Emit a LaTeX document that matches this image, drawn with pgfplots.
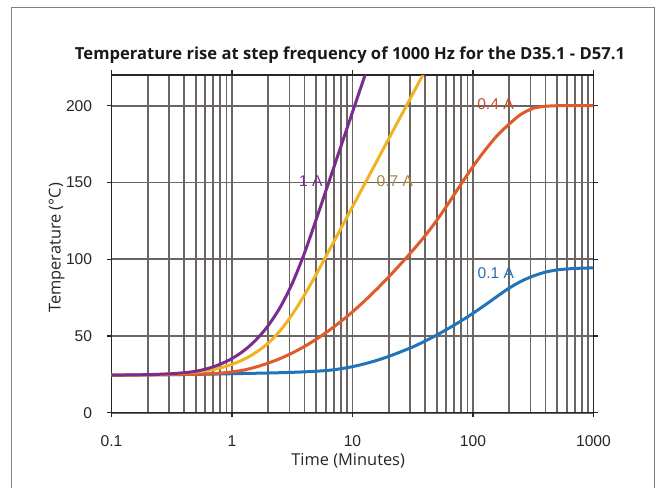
\documentclass[border=0pt]{standalone}
\usepackage{fontspec}
\setmainfont{Liberation Sans}
\newfontfamily\opensans{Open Sans}
\usepackage{pgfplots}
\pgfplotsset{compat=1.18}
\definecolor{cpurple}{HTML}{7B2D8E}
\definecolor{corange}{HTML}{F0B323}
\definecolor{cred}{HTML}{E05A2B}
\definecolor{cblue}{HTML}{1F74BB}
\definecolor{lpurple}{HTML}{7B2D8E}
\definecolor{lorange}{HTML}{A88540}
\definecolor{lred}{HTML}{CC4A2C}
\definecolor{lblue}{HTML}{2A6DB2}
\definecolor{cgrid}{HTML}{6A6463}
\definecolor{framegray}{HTML}{808080}
\begin{document}
\begin{tikzpicture}
\useasboundingbox (0,0) rectangle (330pt,244pt);
\draw[color=framegray, line width=0.8pt] (5.8pt,-5pt) rectangle (327.2pt,240.3pt);
\node[font=\opensans\bfseries\fontsize{8.3}{10}\selectfont, anchor=center, text=black!90] at (175pt,216.5pt) {Temperature rise at step frequency of 1000 Hz for the D35.1 - D57.1};
\begin{axis}[
 at={(55.75pt,37.65pt)}, anchor=south west,
 scale only axis, width=241pt, height=168.85pt,
 xmode=log, xmin=0.1, xmax=1000, ymin=0, ymax=220,
 xtick={0.1,1,10,100,1000}, xticklabels={0.1,1,10,100,1000},
 ytick={0,50,100,150,200},
 grid=both,
 major grid style={color=cgrid, line width=0.95pt},
 minor grid style={color=cgrid, line width=0.95pt},
 axis line style={color=black!85, line width=0.6pt},
 tick align=outside, tick pos=both,
 xticklabel pos=lower, yticklabel pos=left,
 major tick length=2.3pt, minor tick length=0pt,
 tick style={color=black!85, line width=0.6pt},
 ticklabel style={font=\fontsize{7.8}{9}\selectfont, text=black!85},
 xticklabel style={anchor=center, yshift=-11.8pt},
 yticklabel style={xshift=-3.9pt},
 /pgf/number format/assume math mode=true,
 xlabel={Time (Minutes)}, ylabel={Temperature (°C)},
 label style={font=\opensans\fontsize{8.2}{10}\selectfont, text=black!85},
 xlabel style={at={(axis description cs:0.491,-0.1415)}, anchor=center},
 ylabel style={at={(axis description cs:-0.114,0.488)}, anchor=center},
]
% 0.1 A
\addplot[cblue, line width=1.5pt, smooth] coordinates {
(0.1,24.5) (0.1585,24.6) (0.2512,24.75) (0.3981,24.9) (0.631,25.1) (1,25.4) (1.585,25.7) (2.512,26.05) (3.162,26.3) (3.981,26.6) (5.012,27.0) (6.31,27.6) (7.943,28.6) (10,30.0) (12.59,31.85) (15.85,34.05) (19.95,36.65) (25.12,39.65) (31.62,42.85) (39.81,46.55) (50.12,50.65) (63.1,55.05) (79.43,59.75) (100,64.75) (125.9,70.15) (158.5,75.75) (199.5,81.15) (251.2,85.65) (316.2,89.05) (398.1,91.55) (501.2,93.05) (631,93.75) (794.3,94.15) (1000,94.35)};
% 0.4 A
\addplot[cred, line width=1.5pt, smooth] coordinates {
(0.1,24.5) (0.1259,24.52) (0.1585,24.55) (0.1995,24.6) (0.2512,24.65) (0.3162,24.75) (0.3981,24.85) (0.5012,25.0) (0.631,25.3) (0.7943,25.8) (1,26.6) (1.259,27.8) (1.585,29.8) (1.995,32.3) (2.512,35.3) (3.162,38.9) (3.981,43.1) (5.012,47.9) (6.31,53.3) (7.943,59.2) (10,65.7) (12.59,72.8) (15.85,80.4) (19.95,88.4) (25.12,96.9) (31.62,105.7) (39.81,115.0) (50.12,125.4) (63.1,136.8) (79.43,148.8) (100,160.4) (125.9,171.0) (158.5,180.5) (199.5,188) (251.2,194.5) (316.2,198.3) (398.1,199.6) (501.2,200) (631,200) (1000,200)};
% 0.7 A
\addplot[corange, line width=1.5pt, smooth] coordinates {
(0.1,24.5) (0.1259,24.55) (0.1585,24.6) (0.1995,24.75) (0.2512,24.95) (0.3162,25.3) (0.3981,25.8) (0.5012,26.5) (0.631,27.5) (0.7943,29.1) (1,31.5) (1.259,34.8) (1.585,39.3) (1.995,45.3) (2.512,53.5) (3.162,64) (3.981,76.5) (5.012,90.3) (6.31,104.8) (7.943,119.5) (10,134.2) (12.59,148.9) (15.85,163.6) (19.95,178.3) (25.12,193) (31.62,207.7) (39.81,222.4)};
% 1 A
\addplot[cpurple, line width=1.5pt, smooth] coordinates {
(0.1,24.5) (0.1259,24.55) (0.1585,24.65) (0.1995,24.8) (0.2512,25.05) (0.3162,25.4) (0.3981,26.0) (0.5012,27.0) (0.631,28.8) (0.7943,31.5) (1,35.3) (1.259,40.5) (1.585,47.5) (1.995,56.7) (2.512,68.7) (3.162,84.2) (3.981,103.7) (5.012,126.2) (6.31,149.4) (7.943,172.6) (10,195.8) (12.59,219) (15.85,242)};
\node[text=lpurple, font=\fontsize{7.8}{9}\selectfont] at (axis cs:4.52,151) {1 A};
\node[text=lorange, font=\fontsize{7.8}{9}\selectfont] at (axis cs:22.5,151) {0.7 A};
\node[text=lred, font=\fontsize{7.8}{9}\selectfont] at (axis cs:153.7,201.3) {0.4 A};
\node[text=lblue, font=\fontsize{7.8}{9}\selectfont] at (axis cs:155,91.2) {0.1 A};
\end{axis}
\end{tikzpicture}
\end{document}
